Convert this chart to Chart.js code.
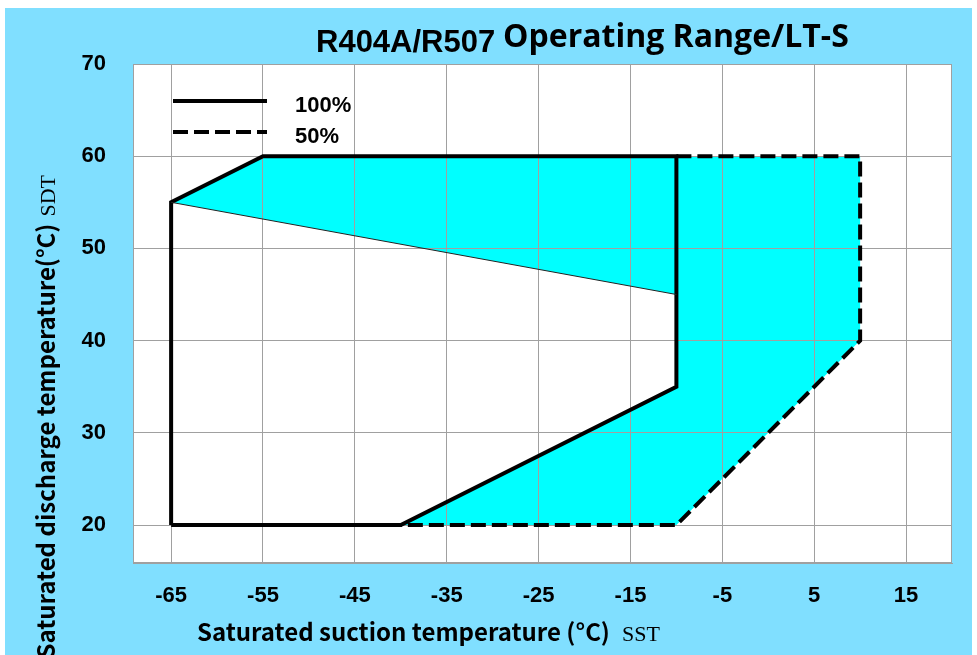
<!DOCTYPE html>
<html>
<head>
<meta charset="utf-8">
<script src="https://cdn.jsdelivr.net/npm/chart.js@4.4.1/dist/chart.umd.min.js"></script>
<style>
  html, body { margin: 0; padding: 0; background: #fff; }
  #wrap { width: 977px; height: 655px; }
</style>
</head>
<body>
<div id="wrap"><canvas id="myChart" width="977" height="655"></canvas></div>
<script>
// operating envelope: SST on x, SDT on y (deg C)
var sst100 = [-65, -65, -55, -10, -10, -40, -65];
var sdt100 = [20, 55, 60, 60, 35, 20, 20];
var sst50 = [-10, 10, 10, -10, -40];
var sdt50 = [60, 60, 40, 20, 20];
// cyan area (extra range) and the thin split line
var sstArea = [-65, -55, 10, 10, -10, -40, -10, -10, -65];
var sdtArea = [55, 60, 60, 40, 20, 20, 35, 45, 55];
var sstSplit = [-65, -10];
var sdtSplit = [55, 45];
var xTicks = [-65, -55, -45, -35, -25, -15, -5, 5, 15];
var yTicks = [20, 30, 40, 50, 60, 70];
var seriesNames = ['100%', '50%'];

function pts(xs, ys) {
    return xs.map(function(x, i) { return {x: x, y: ys[i]}; });
}

var tickFont = {family: '"Liberation Sans", Arial', size: 22, weight: 'bold'};
var cjkBold = '"Noto Sans CJK SC", "Noto Sans", sans-serif';

var decor = {
    id: 'decor',
    beforeDraw: function(chart) {
        var ctx = chart.ctx, a = chart.chartArea;
        ctx.save();
        ctx.globalCompositeOperation = 'destination-over';
        ctx.fillStyle = '#ffffff';
        ctx.fillRect(a.left, a.top, a.right - a.left, a.bottom - a.top);
        ctx.fillStyle = '#80dfff';
        ctx.fillRect(5, 8, 967, 647);
        ctx.fillStyle = '#ffffff';
        ctx.fillRect(0, 0, chart.width, chart.height);
        ctx.restore();
    },
    beforeDatasetsDraw: function(chart) {
        var ctx = chart.ctx, a = chart.chartArea;
        ctx.save();
        ctx.strokeStyle = '#a0a0a0';
        ctx.lineWidth = 1;
        ctx.strokeRect(a.left + 0.5, a.top + 0.5, a.right - a.left - 1, a.bottom - a.top - 1);
        ctx.restore();
    },
    afterDraw: function(chart) {
        var ctx = chart.ctx;
        ctx.save();
        ctx.fillStyle = '#000';
        ctx.textBaseline = 'alphabetic';
        ctx.textAlign = 'left';

        // title, two fonts
        ctx.font = 'bold 31px "Liberation Sans", Arial';
        ctx.fillText('R404A/R507', 316, 52);
        ctx.font = 'bold 32px "Open Sans", "Noto Sans", sans-serif';
        ctx.fillText('Operating Range/LT-S', 503, 47);

        // x axis title
        ctx.font = 'bold 24px ' + cjkBold;
        var t1 = 'Saturated suction temperature (°C)';
        ctx.fillText(t1, 197, 641);
        var w1 = ctx.measureText(t1).width;
        ctx.font = '22px "Liberation Serif", "Times New Roman", serif';
        ctx.fillText('SST', 197 + w1 + 12, 641);

        // y axis title, rotated
        ctx.save();
        ctx.translate(55, 175);
        ctx.rotate(-Math.PI / 2);
        ctx.textAlign = 'right';
        ctx.font = '22px "Liberation Serif", "Times New Roman", serif';
        var sdt = 'SDT';
        ctx.fillText(sdt, 0, 0);
        var w2 = ctx.measureText(sdt).width;
        ctx.font = 'bold 24px ' + cjkBold;
        ctx.fillText('Saturated discharge temperature(°C)', -w2 - 7, 0);
        ctx.restore();

        // legend
        var rows = [chart.data.datasets[3], chart.data.datasets[2]];
        var ys = [101, 132];
        rows.forEach(function(ds, i) {
            ctx.beginPath();
            ctx.strokeStyle = ds.borderColor;
            ctx.lineWidth = ds.borderWidth;
            ctx.setLineDash(ds.borderDash || []);
            ctx.moveTo(173, ys[i]);
            ctx.lineTo(267, ys[i]);
            ctx.stroke();
            ctx.setLineDash([]);
            ctx.font = 'bold 22px "Liberation Sans", Arial';
            ctx.textBaseline = 'middle';
            ctx.fillText(ds.label, 295, ys[i] + 5);
        });
        ctx.restore();
    }
};

var ctx = document.getElementById('myChart');
var chart = new Chart(ctx, {
    type: 'scatter',
    data: {
        datasets: [{
            label: 'area',
            data: pts(sstArea, sdtArea),
            showLine: true,
            borderWidth: 0,
            borderColor: 'rgba(0,0,0,0)',
            backgroundColor: '#00ffff',
            fill: 'shape',
            pointRadius: 0
        }, {
            label: 'split',
            data: pts(sstSplit, sdtSplit),
            showLine: true,
            borderWidth: 1,
            borderColor: '#222',
            pointRadius: 0
        }, {
            label: seriesNames[1],
            data: pts(sst50, sdt50),
            showLine: true,
            borderWidth: 4,
            borderColor: '#000',
            borderDash: [15, 6],
            pointRadius: 0
        }, {
            label: seriesNames[0],
            data: pts(sst100, sdt100),
            showLine: true,
            borderWidth: 4,
            borderColor: '#000',
            pointRadius: 0
        }]
    },
    options: {
        responsive: false,
        animation: false,
        layout: {padding: {left: 0, top: 64, right: 25, bottom: 0}},
        plugins: {
            legend: {display: false},
            tooltip: {enabled: false},
            filler: {drawTime: 'beforeDraw'}
        },
        scales: {
            x: {
                type: 'linear',
                min: -69.15,
                max: 20,
                afterBuildTicks: function(scale) {
                    scale.ticks = xTicks.map(function(v) { return {value: v}; });
                },
                afterFit: function(scale) { scale.height = 92; },
                grid: {color: '#a0a0a0', lineWidth: 1, drawTicks: false},
                border: {color: '#a0a0a0'},
                ticks: {font: tickFont, color: '#000', padding: 20, maxRotation: 0, autoSkip: false}
            },
            y: {
                type: 'linear',
                min: 15.88,
                max: 70,
                afterBuildTicks: function(scale) {
                    scale.ticks = yTicks.map(function(v) { return {value: v}; });
                },
                afterFit: function(scale) { scale.width = 133; },
                grid: {color: '#a0a0a0', lineWidth: 1, drawTicks: false},
                border: {color: '#a0a0a0'},
                ticks: {font: tickFont, color: '#000', padding: 27, autoSkip: false}
            }
        }
    },
    plugins: [decor]
});
</script>
</body>
</html>
